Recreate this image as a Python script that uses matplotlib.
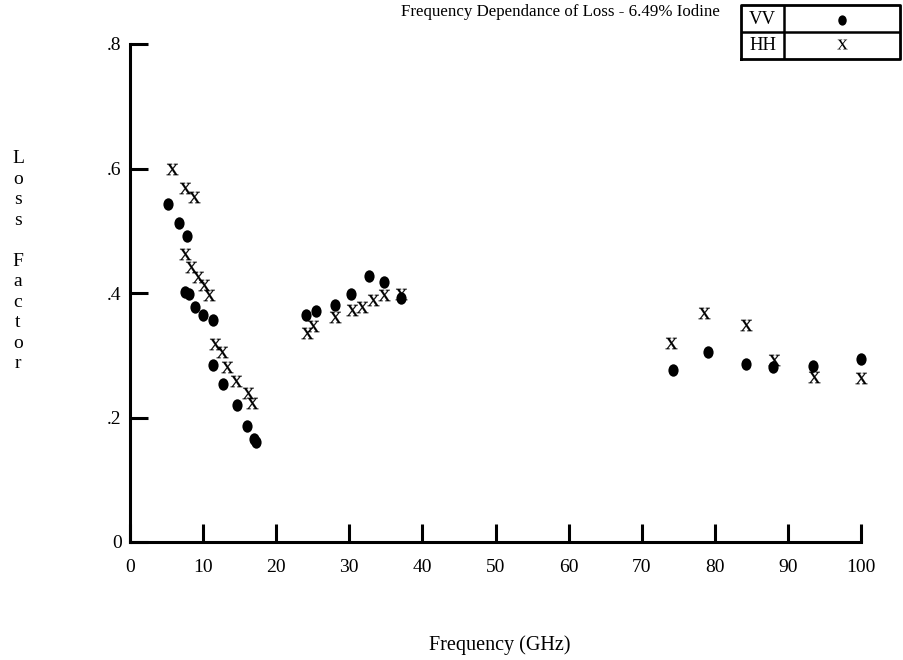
import numpy as np
import matplotlib.pyplot as plt
from matplotlib.path import Path
from matplotlib.transforms import Affine2D

plt.rcParams['font.family'] = ['Liberation Serif', 'DejaVu Serif']
plt.rcParams['mathtext.fontset'] = 'custom'
plt.rcParams['mathtext.rm'] = 'Liberation Serif'

# VV polarisation (dots)
vv_freq = [5.23, 6.67, 7.73, 7.49, 8.09, 8.86, 10.01, 11.37, 11.37, 12.74, 14.65, 16.01, 16.91, 17.19,
           24.11, 25.47, 28.06, 30.25, 32.66, 34.79, 37.07,
           74.24, 79.02, 84.26, 88.03, 93.49, 100.0]
vv_loss = [0.543, 0.512, 0.492, 0.402, 0.398, 0.377, 0.365, 0.356, 0.284, 0.254, 0.220, 0.186, 0.166, 0.161,
           0.364, 0.371, 0.380, 0.398, 0.427, 0.418, 0.392,
           0.276, 0.306, 0.286, 0.281, 0.282, 0.294]

# HH polarisation (x)
hh_freq = [5.77, 7.49, 8.72, 7.59, 8.31, 9.32, 10.14, 10.82, 11.59, 12.64, 13.28, 14.46, 16.15, 16.69,
           24.24, 25.02, 28.11, 30.34, 31.75, 33.21, 34.71, 37.07,
           74.02, 78.47, 84.26, 88.13, 93.63, 100.0]
hh_loss = [0.599, 0.569, 0.555, 0.463, 0.442, 0.425, 0.413, 0.397, 0.318, 0.306, 0.281, 0.259, 0.239, 0.224,
           0.336, 0.347, 0.362, 0.373, 0.377, 0.388, 0.396, 0.398,
           0.319, 0.368, 0.349, 0.292, 0.265, 0.263]

x_ticks = [0, 10, 20, 30, 40, 50, 60, 70, 80, 90, 100]
y_ticks = [0, 0.2, 0.4, 0.6, 0.8]
y_tick_labels = ['0', '.2', '.4', '.6', '.8']

W, H = 904, 660
fig = plt.figure(figsize=(W / 100, H / 100), dpi=100)
ax = fig.add_axes([130 / W, 1 - 542 / H, (861 - 130) / W, (542 - 44) / H])

dot = Path.unit_circle().transformed(Affine2D().scale(0.82, 1.0))
xmark = r'$\mathrm{x}$'

ax.scatter(vv_freq, vv_loss, marker=dot, s=80, c='black', linewidths=0, clip_on=False)
ax.scatter(hh_freq, hh_loss, marker=xmark, s=72, c='black', edgecolors='black',
           linewidths=0.15, clip_on=False)

ax.set_xlim(0, 100)
ax.set_ylim(0, 0.8)
ax.set_xticks(x_ticks)
ax.set_xticklabels([str(t) for t in x_ticks])
ax.set_yticks(y_ticks)
ax.set_yticklabels(y_tick_labels)

for s in ['top', 'right']:
    ax.spines[s].set_visible(False)
for s in ['left', 'bottom']:
    ax.spines[s].set_linewidth(2.2)
ax.tick_params(axis='both', direction='in', length=13, width=2.2, labelsize=14)
ax.tick_params(axis='x', pad=12)
ax.tick_params(axis='y', pad=6)

fig.text(560 / W, 1 - 16 / H, 'Frequency Dependance of Loss - 6.49% Iodine',
         ha='center', va='baseline', fontsize=12.2)
fig.text(500 / W, 1 - 645 / H, 'Frequency (GHz)', ha='center', va='center', fontsize=14.5)
fig.text(18 / W, 1 - 150 / H, 'L\no\ns\ns\n\nF\na\nc\nt\no\nr',
         ha='center', va='top', fontsize=14, linespacing=1.27)

# legend table
lg = fig.add_axes([741 / W, 1 - 59 / H, 159 / W, 54 / H])
lg.set_xlim(0, 1)
lg.set_ylim(0, 1)
lg.axis('off')
split = (784 - 741) / 159
lg.plot([0, 1, 1, 0, 0], [0, 0, 1, 1, 0], color='black', lw=2, clip_on=False)
lg.plot([0, 1], [0.5, 0.5], color='black', lw=1.8)
lg.plot([split, split], [0, 1], color='black', lw=1.8)
lg.text(split / 2, 0.74, 'VV', ha='center', va='center', fontsize=13.5)
lg.text(split / 2, 0.25, 'HH', ha='center', va='center', fontsize=13.5)
lg.scatter([(split + 1) / 2], [0.73], marker=dot, s=55, c='black', linewidths=0)
lg.scatter([(split + 1) / 2], [0.27], marker=xmark, s=55, c='black', linewidths=0)

fig.savefig('out.png', dpi=100)
